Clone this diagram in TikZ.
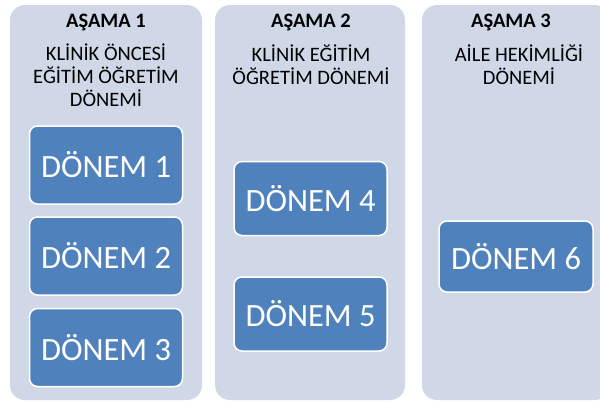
\documentclass[tikz,border=0pt]{standalone}
\usepackage{fontspec}
\setmainfont{Carlito}
\usepackage{tikz}
\usetikzlibrary{positioning}
\definecolor{panelgri}{HTML}{D0D8E8}
\definecolor{donemmavi}{HTML}{4F81BD}
\tikzset{
	asama/.style={fill=panelgri, rounded corners=15pt, minimum width=#1, minimum height=395pt, inner sep=0pt},
	baslik/.style={anchor=base, font=\fontsize{20.5}{22}\selectfont\bfseries, inner sep=0pt},
	altbaslik/.style={anchor=base, align=center, font=\fontsize{20.5}{23}\selectfont, inner sep=0pt},
	donem/.style={fill=donemmavi, draw=white, line width=1.5pt, rounded corners=8pt, text=white, font=\fontsize{32.5}{32.5}\selectfont, minimum width=153pt, inner sep=0pt}
}
\begin{document}
\begin{tikzpicture}[x=1pt,y=-1pt]
\useasboundingbox(0,0)rectangle(600,405);
\begin{scope}
\clip(0,0)rectangle(600,405);
\node[asama=192pt](a1)at(106,202.5){};
\node[asama=190pt](a2)at(310,202.5){};
\node[asama=188pt](a3)at(516,202.5){};
\end{scope}
\node[baslik](b1)at(106,27.5){AŞAMA 1};
\node[baslik](b2)at(311,27.5){AŞAMA 2};
\node[baslik](b3)at(511,27.5){AŞAMA 3};
% base = last line
\node[altbaslik](t1)at(106,106){KLİNİK ÖNCESİ\\EĞİTİM ÖĞRETİM\\DÖNEMİ};
\node[altbaslik](t2)at(311,84.5){KLİNİK EĞİTİM\\ÖĞRETİM DÖNEMİ};
\node[altbaslik](t3)at(519,84){AİLE HEKİMLİĞİ\\DÖNEMİ};
\node[donem, minimum height=78pt](d1)at(106,165){DÖNEM 1};
\node[donem, minimum height=78pt](d2)at(106,256){DÖNEM 2};
\node[donem, minimum height=78pt](d3)at(106,347.5){DÖNEM 3};
\node[donem, minimum height=74pt](d4)at(310.5,198.5){DÖNEM 4};
\node[donem, minimum height=74pt](d5)at(310.5,314){DÖNEM 5};
\node[donem, minimum height=71pt, minimum width=154pt](d6)at(516,256.5){DÖNEM 6};
\end{tikzpicture}
\end{document}
